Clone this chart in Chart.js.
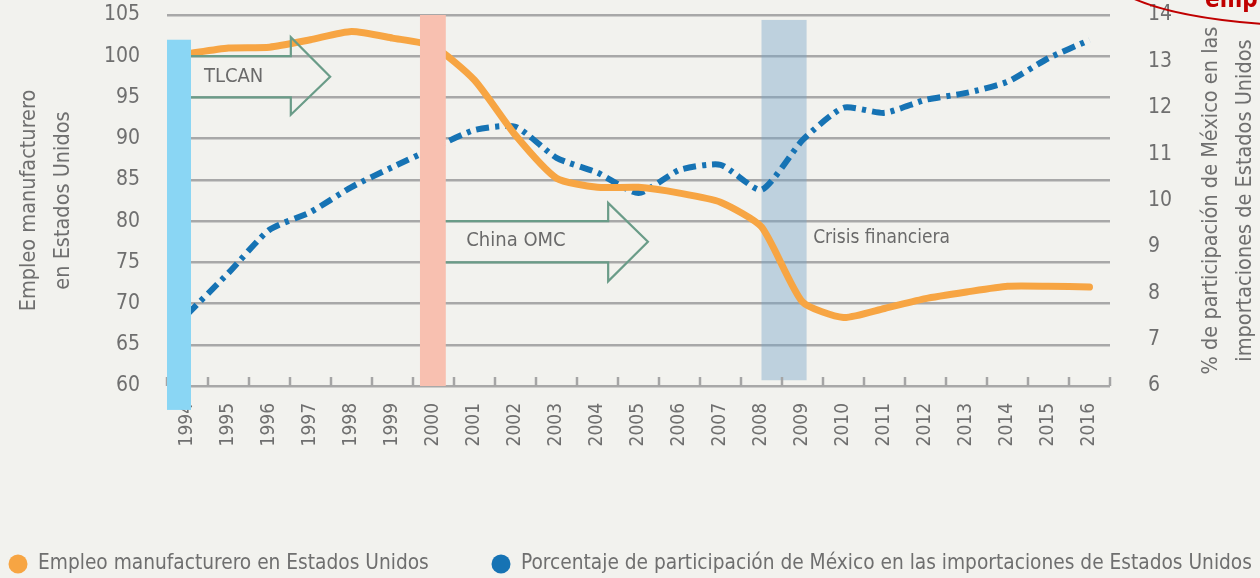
<!DOCTYPE html>
<html><head><meta charset="utf-8">
<script src="https://cdn.jsdelivr.net/npm/chart.js@4.4.1/dist/chart.umd.min.js"></script>
<style>html,body{margin:0;padding:0;background:#f2f2ee;}#wrap{width:1260px;height:578px;}</style>
</head><body><div id="wrap"><canvas id="c" width="1260" height="578"></canvas></div>
<script>
const years = ['1994','1995','1996','1997','1998','1999','2000','2001','2002','2003','2004','2005','2006','2007','2008','2009','2010','2011','2012','2013','2014','2015','2016'];
const empleo = [100.3,101.0,101.1,102.0,103.0,102.2,101.2,97.1,90.4,85.2,84.1,84.1,83.4,82.3,79.3,70.2,68.3,69.4,70.6,71.4,72.1,72.1,72.0];
const participacion = [7.55,8.44,9.37,9.75,10.29,10.72,11.13,11.52,11.59,10.92,10.6,10.16,10.66,10.77,10.23,11.3,12.0,11.89,12.17,12.32,12.56,13.07,13.46];
const leftTicks = [60,65,70,75,80,85,90,95,100,105];
const rightTicks = [6,7,8,9,10,11,12,13,14];
const seriesNames = ['Empleo manufacturero en Estados Unidos','Porcentaje de participación de México en las importaciones de Estados Unidos'];
const leftTitle = ['Empleo manufacturero','en Estados Unidos'];
const rightTitle = ['% de participación de México en las','importaciones de Estados Unidos'];
// shaded periods: [fromIndex, toIndex, fromValue, toValue] on category index / left axis
const bandTLCAN = [-0.5, 0.085, 102.0, 57.1];
const bandOMC = [5.67, 6.3, 105, 60];
const bandCrisis = [14.0, 15.1, 104.4, 60.7];
// arrows: [bodyStart, headBase, tip, bodyTop, bodyBottom, headTop, headBottom]
const arrowTLCAN = [0.085, 2.52, 3.48, 100, 95, 102.3, 92.9];
const arrowOMC = [6.3, 10.26, 11.23, 80, 75, 82.2, 72.7];
const labels = [['TLCAN',0.4,97.5],['China OMC',6.8,77.6],['Crisis financiera',15.26,78.0]];

const FONT = "'Liberation Sans Narrow','DejaVu Sans Condensed','Arial Narrow',sans-serif";
const GREY = '#6f6f6f';
const ORANGE = '#f7a543';
const BLUE = '#1673b4';

const deco = {
  id:'deco',
  beforeDraw(chart){
    const ctx = chart.ctx; ctx.save(); ctx.fillStyle='#f2f2ee'; ctx.fillRect(0,0,chart.width,chart.height); ctx.restore();
  },
  beforeDatasetsDraw(chart){
    const ctx = chart.ctx, x = chart.scales.x, y = chart.scales.y;
    ctx.save();
    const b = bandCrisis;
    ctx.fillStyle='rgba(120,165,200,0.42)';
    ctx.fillRect(x.getPixelForValue(b[0]), y.getPixelForValue(b[2]), x.getPixelForValue(b[1])-x.getPixelForValue(b[0]), y.getPixelForValue(b[3])-y.getPixelForValue(b[2]));
    ctx.strokeStyle='#a5a5a5'; ctx.lineWidth=2.5;
    const n = years.length;
    for(let i=0;i<=n;i++){
      const px = x.getPixelForValue(i-0.5);
      ctx.beginPath(); ctx.moveTo(px, y.bottom); ctx.lineTo(px, y.bottom-9); ctx.stroke();
    }
    ctx.restore();
  },
  afterDatasetsDraw(chart){
    const ctx = chart.ctx, x = chart.scales.x, y = chart.scales.y;
    ctx.save();
    const rect=(b,col)=>{ctx.fillStyle=col; const x0=x.getPixelForValue(b[0]), x1=x.getPixelForValue(b[1]); const y0=y.getPixelForValue(b[2]), y1=y.getPixelForValue(b[3]); ctx.fillRect(x0,y0,x1-x0,y1-y0);};
    rect(bandTLCAN,'#8ad6f4');
    rect(bandOMC,'#f8c0b0');
    const arrow=(a)=>{
      const xs=x.getPixelForValue(a[0]), xb=x.getPixelForValue(a[1]), xt=x.getPixelForValue(a[2]);
      const yt=y.getPixelForValue(a[3]), yb=y.getPixelForValue(a[4]), yht=y.getPixelForValue(a[5]), yhb=y.getPixelForValue(a[6]);
      const ym=(yt+yb)/2;
      ctx.strokeStyle='#6a9c88'; ctx.lineWidth=2.2;
      ctx.beginPath(); ctx.moveTo(xs,yt); ctx.lineTo(xb,yt); ctx.lineTo(xb,yht); ctx.lineTo(xt,ym); ctx.lineTo(xb,yhb); ctx.lineTo(xb,yb); ctx.lineTo(xs,yb); ctx.stroke();
    };
    arrow(arrowTLCAN); arrow(arrowOMC);
    ctx.fillStyle='#6a6a6a'; ctx.textBaseline='middle'; ctx.textAlign='left';
    labels.forEach((l,i)=>{ctx.font=(i===2?"19px ":"20px ")+FONT; ctx.fillText(l[0], x.getPixelForValue(l[1]), y.getPixelForValue(l[2]));});
    ctx.restore();
  },
  afterDraw(chart){
    const ctx = chart.ctx, y = chart.scales.y;
    ctx.save();
    const cy = (y.top+y.bottom)/2;
    ctx.fillStyle=GREY; ctx.font="21.5px "+FONT; ctx.textAlign='center'; ctx.textBaseline='middle';
    ctx.translate(29, cy); ctx.rotate(-Math.PI/2);
    ctx.fillText(leftTitle[0],0,0); ctx.fillText(leftTitle[1],0,34);
    ctx.restore();
    ctx.save();
    ctx.fillStyle=GREY; ctx.font="21.5px "+FONT; ctx.textAlign='center'; ctx.textBaseline='middle';
    ctx.translate(1211, cy); ctx.rotate(-Math.PI/2);
    ctx.fillText(rightTitle[0],0,0); ctx.fillText(rightTitle[1],0,34);
    ctx.restore();
    // legend (from dataset labels and colours)
    ctx.save();
    ctx.font="20.7px "+FONT; ctx.textBaseline='middle'; ctx.textAlign='left';
    const lx=[18,501];
    chart.data.datasets.forEach((d,i)=>{
      ctx.fillStyle=d.borderColor; ctx.beginPath(); ctx.arc(lx[i],564,9.5,0,Math.PI*2); ctx.fill();
      ctx.fillStyle=GREY; ctx.fillText(d.label, lx[i]+20, 564);
    });
    ctx.restore();
    // red callout fragment top-right
    ctx.save();
    ctx.strokeStyle='#c00000'; ctx.lineWidth=2;
    ctx.beginPath(); ctx.moveTo(1128,-4); ctx.bezierCurveTo(1160,12,1210,20,1262,24); ctx.stroke();
    ctx.fillStyle='#c00000'; ctx.font="bold 24px "+FONT; ctx.textBaseline='alphabetic'; ctx.textAlign='left';
    ctx.fillText('emp',1205,7);
    ctx.restore();
  }
};

new Chart(document.getElementById('c'), {
  type:'line',
  data:{
    labels: years,
    datasets:[
      {label:seriesNames[0], data:empleo, yAxisID:'y', borderColor:ORANGE, backgroundColor:ORANGE, borderWidth:7, pointRadius:0, tension:0.2, borderCapStyle:'round', borderJoinStyle:'round'},
      {label:seriesNames[1], data:participacion, yAxisID:'y1', borderColor:BLUE, backgroundColor:BLUE, borderWidth:6, pointRadius:0, tension:0.2, borderDash:[13,6,4,6]}
    ]
  },
  options:{
    responsive:false, animation:false,
    layout:{padding:{top:15,left:0,right:0,bottom:0}},
    plugins:{ tooltip:{enabled:false}, legend:{display:false} },
    scales:{
      x:{type:'category', offset:true,
        grid:{display:true, drawOnChartArea:false, drawTicks:false, offset:true, color:'transparent'},
        border:{display:false},
        ticks:{maxRotation:90,minRotation:90,autoSkip:false,padding:17,color:GREY,font:{family:FONT,size:19}},
        afterFit:(s)=>{s.height=192;}
      },
      y:{position:'left', min:60, max:105,
        afterBuildTicks:(s)=>{s.ticks=leftTicks.map(v=>({value:v}));},
        grid:{color:'#a8a8a8', lineWidth:2.5, drawTicks:false},
        border:{display:false},
        ticks:{padding:27,color:GREY,font:{family:FONT,size:21}},
        afterFit:(s)=>{s.width=167; s.paddingTop=0; s.paddingBottom=0;}
      },
      y1:{position:'right', min:6, max:14,
        afterBuildTicks:(s)=>{s.ticks=rightTicks.map(v=>({value:v}));},
        grid:{display:false},
        border:{display:false},
        ticks:{padding:30,color:GREY,font:{family:FONT,size:21}},
        afterFit:(s)=>{s.width=150; s.paddingTop=0; s.paddingBottom=0;}
      }
    }
  },
  plugins:[deco]
});
</script></body></html>
